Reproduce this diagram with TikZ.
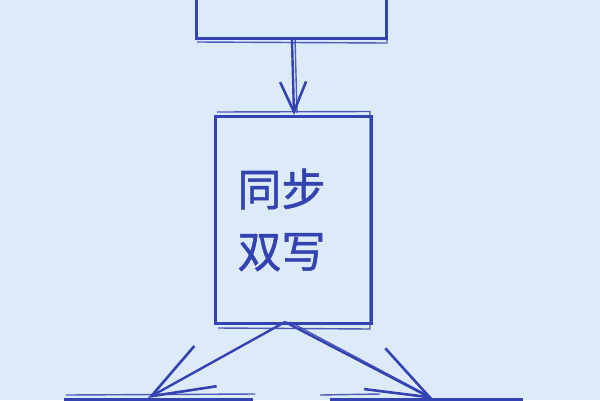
\documentclass[tikz,border=0pt]{standalone}
\usepackage{fontspec}
\newfontfamily\cjk[FakeBold=1.2]{Noto Sans CJK SC}
\usetikzlibrary{arrows.meta}
\definecolor{bg}{HTML}{DDEAF8}
\definecolor{ink}{HTML}{3443B2}
\tikzset{
  box/.style={draw=ink, line width=3pt, inner sep=0pt, anchor=north west},
  sketch/.style={draw=ink, line width=1.4pt, opacity=0.85},
  conn/.style n args={2}{draw=ink, line width=2.4pt, -{Straight Barb[length=#1, width=#2, line width=2.6pt]}},
  lbl/.style={text=ink, font=\cjk\fontsize{44}{62}\selectfont, align=center}
}
\begin{document}
\begin{tikzpicture}[x=1pt,y=-1pt]
\fill[bg] (0,0) rectangle (600,400);
\useasboundingbox (0,0) rectangle (600,400);
\clip (0,0) rectangle (600,400);
% boxes
\node[box, minimum width=190pt, minimum height=80pt] (top) at (195,-43) {};
\node[box, minimum width=156pt, minimum height=207pt] (mid) at (214,115) {};
\node[box, minimum width=186pt, minimum height=70pt] (bl) at (64,398) {};
\node[box, minimum width=190pt, minimum height=70pt] (br) at (330,398) {};
% sketchy second strokes
\draw[sketch] ([shift={(2,2)}]top.south west) -- ([shift={(-1,3)}]top.south east) -- ([shift={(-3,-40)}]top.north east);
\draw[sketch] ([shift={(3,-3)}]mid.north west) -- ([shift={(-3,-3.5)}]mid.north east) -- ([shift={(-3,4)}]mid.south east) -- ([shift={(4,3)}]mid.south west);
\draw[sketch] ([shift={(2,-3)}]bl.north west) -- ([shift={(2,-4)}]bl.north east);
\draw[sketch] ([shift={(-10,-3)}]br.north west) -- ([shift={(50,-4)}]br.north west);
% label
\node[lbl] (t) at (mid.center) [xshift=-12pt] {同步\\双写};
% connector points
\coordinate (s1) at (292,37);
\coordinate (e1) at (294,113);
\coordinate (src) at (285,322);
\coordinate (eL) at (148,398);
\coordinate (eR) at (433,399);
\draw[conn={30pt}{26pt}] (top.south -| s1) -- (mid.north -| e1);
\draw[conn={62pt}{46pt}] (src) -- (eL);
\draw[conn={62pt}{46pt}] (src) -- (eR);
\draw[sketch] ([xshift=5pt]src) -- ([shift={(-4,-3)}]eR);
\draw[sketch] ([xshift=3pt]s1) -- ([xshift=3pt]e1);
\end{tikzpicture}
\end{document}
